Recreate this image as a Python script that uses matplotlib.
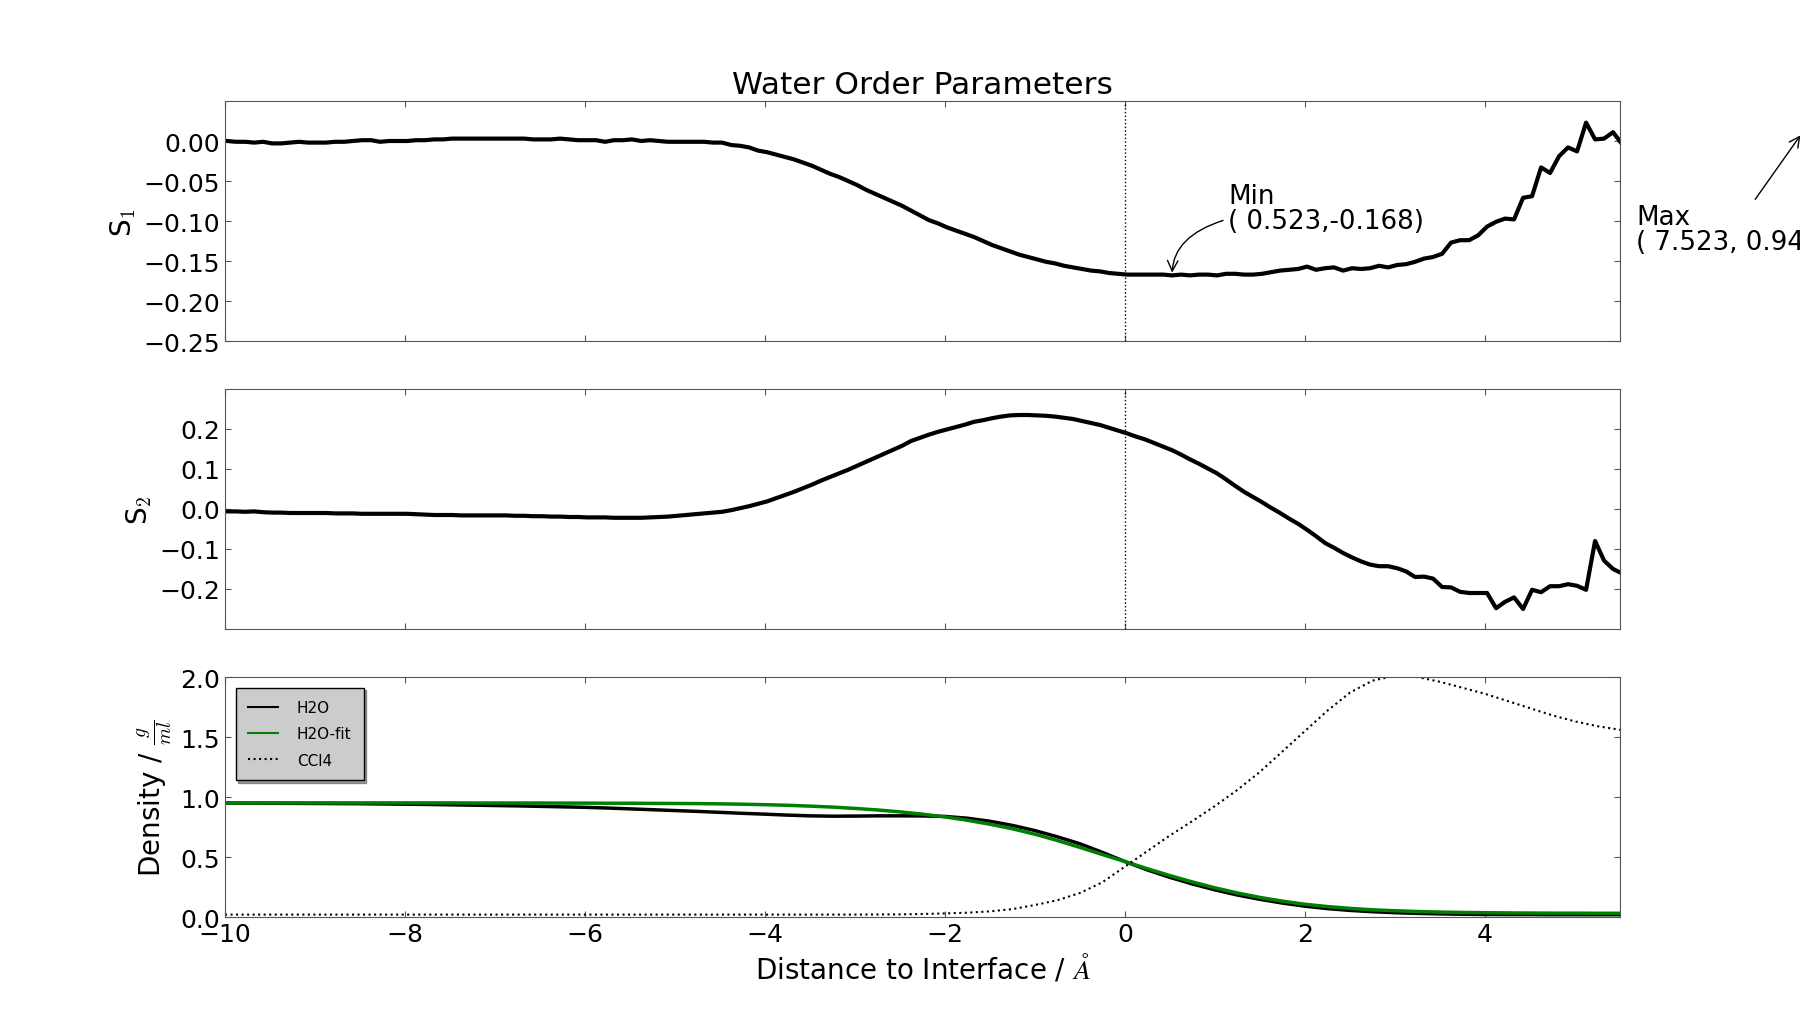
import numpy as np
import matplotlib
matplotlib.use('Agg')
import matplotlib.pyplot as plt

plt.rcParams['mathtext.fontset'] = 'cm'
plt.rcParams['font.family'] = ['DejaVu Sans']
plt.rcParams['xtick.direction'] = 'in'
plt.rcParams['ytick.direction'] = 'in'
plt.rcParams['xtick.top'] = True
plt.rcParams['ytick.right'] = True
plt.rcParams['axes.edgecolor'] = '#555555'
plt.rcParams['xtick.color'] = '#555555'
plt.rcParams['ytick.color'] = '#555555'
plt.rcParams['xtick.labelcolor'] = 'black'
plt.rcParams['ytick.labelcolor'] = 'black'

# order parameters, one bin every 0.1 A
x = np.linspace(-9.977, 5.523, 156)
s1 = [0.000, -0.001, -0.001, -0.002, -0.001, -0.003, -0.003, -0.002, -0.001, -0.002, -0.002,
      -0.002, -0.001, -0.001, 0.000, 0.001, 0.001, -0.001, 0.000, 0.000, 0.000,
      0.001, 0.001, 0.002, 0.002, 0.003, 0.003, 0.003, 0.003, 0.003, 0.003,
      0.003, 0.003, 0.003, 0.002, 0.002, 0.002, 0.003, 0.002, 0.001, 0.001,
      0.001, -0.001, 0.001, 0.001, 0.002, 0.000, 0.001, 0.000, -0.001, -0.001,
      -0.001, -0.001, -0.001, -0.002, -0.002, -0.005, -0.006, -0.008, -0.012, -0.014,
      -0.017, -0.020, -0.023, -0.027, -0.031, -0.036, -0.041, -0.045, -0.050, -0.055,
      -0.061, -0.066, -0.071, -0.076, -0.081, -0.087, -0.093, -0.099, -0.103, -0.108,
      -0.112, -0.116, -0.120, -0.125, -0.130, -0.134, -0.138, -0.142, -0.145, -0.148,
      -0.151, -0.153, -0.156, -0.158, -0.160, -0.162, -0.163, -0.165, -0.166, -0.167,
      -0.167, -0.167, -0.167, -0.167, -0.168, -0.167, -0.168, -0.167, -0.167, -0.168,
      -0.166, -0.166, -0.167, -0.167, -0.166, -0.164, -0.162, -0.161, -0.160, -0.157,
      -0.161, -0.159, -0.158, -0.162, -0.159, -0.160, -0.159, -0.156, -0.158, -0.155,
      -0.154, -0.151, -0.147, -0.145, -0.141, -0.127, -0.124, -0.124, -0.118, -0.107,
      -0.101, -0.097, -0.098, -0.071, -0.069, -0.033, -0.040, -0.019, -0.008, -0.013,
      0.023, 0.002, 0.003, 0.011, -0.004]
s2 = [-0.006, -0.006, -0.007, -0.006, -0.008, -0.009, -0.009, -0.010, -0.010, -0.010, -0.010,
      -0.010, -0.011, -0.011, -0.011, -0.012, -0.012, -0.012, -0.012, -0.012, -0.012,
      -0.013, -0.014, -0.015, -0.015, -0.015, -0.016, -0.016, -0.016, -0.016, -0.016,
      -0.016, -0.017, -0.017, -0.018, -0.018, -0.019, -0.019, -0.020, -0.020, -0.021,
      -0.021, -0.021, -0.022, -0.022, -0.022, -0.022, -0.021, -0.020, -0.019, -0.017,
      -0.015, -0.013, -0.011, -0.009, -0.007, -0.003, 0.002, 0.007, 0.013, 0.019,
      0.027, 0.035, 0.043, 0.052, 0.061, 0.071, 0.080, 0.089, 0.098, 0.108,
      0.118, 0.128, 0.138, 0.148, 0.158, 0.170, 0.178, 0.186, 0.193, 0.199,
      0.205, 0.211, 0.218, 0.222, 0.227, 0.231, 0.234, 0.235, 0.235, 0.234,
      0.233, 0.231, 0.228, 0.225, 0.220, 0.215, 0.210, 0.203, 0.196, 0.189,
      0.181, 0.174, 0.165, 0.156, 0.147, 0.136, 0.124, 0.113, 0.101, 0.089,
      0.074, 0.058, 0.043, 0.030, 0.017, 0.003, -0.010, -0.024, -0.037, -0.052,
      -0.068, -0.085, -0.097, -0.110, -0.121, -0.131, -0.139, -0.143, -0.143, -0.148,
      -0.156, -0.170, -0.169, -0.174, -0.195, -0.196, -0.207, -0.210, -0.210, -0.210,
      -0.248, -0.232, -0.221, -0.250, -0.202, -0.208, -0.193, -0.193, -0.188, -0.192,
      -0.202, -0.080, -0.129, -0.150, -0.161]

# densities, every 0.25 A
xd = np.linspace(-10, 5.5, 63)
h2o = [0.950, 0.949, 0.948, 0.947, 0.946, 0.945, 0.944, 0.942, 0.940, 0.938,
       0.935, 0.932, 0.929, 0.926, 0.922, 0.918, 0.914, 0.908, 0.901, 0.894,
       0.887, 0.880, 0.872, 0.864, 0.857, 0.849, 0.843, 0.840, 0.841, 0.843,
       0.843, 0.842, 0.838, 0.823, 0.798, 0.763, 0.720, 0.668, 0.610, 0.538,
       0.462, 0.392, 0.330, 0.275, 0.226, 0.183, 0.147, 0.116, 0.090, 0.070,
       0.055, 0.044, 0.036, 0.030, 0.026, 0.023, 0.021, 0.020, 0.020, 0.019,
       0.019, 0.019, 0.019]
h2o_fit = [0.951, 0.951, 0.951, 0.951, 0.951, 0.951, 0.951, 0.951, 0.951, 0.951,
           0.951, 0.950, 0.950, 0.950, 0.950, 0.949, 0.949, 0.948, 0.948, 0.947,
           0.946, 0.945, 0.943, 0.940, 0.936, 0.931, 0.924, 0.916, 0.905, 0.892,
           0.876, 0.857, 0.834, 0.806, 0.773, 0.735, 0.690, 0.637, 0.580, 0.520,
           0.462, 0.402, 0.345, 0.292, 0.243, 0.200, 0.163, 0.132, 0.106, 0.087,
           0.072, 0.060, 0.052, 0.046, 0.041, 0.038, 0.036, 0.034, 0.033, 0.032,
           0.032, 0.031, 0.031]
ccl4 = [0.020] * 28 + [
        0.020, 0.021, 0.022, 0.025, 0.030, 0.036, 0.047, 0.066, 0.100, 0.140,
        0.200, 0.290, 0.420, 0.550, 0.680, 0.800, 0.925, 1.060, 1.210, 1.380,
        1.550, 1.720, 1.870, 1.970, 2.010, 2.000, 1.960, 1.910, 1.860, 1.800,
        1.740, 1.680, 1.630, 1.590, 1.560]

fig, (ax1, ax2, ax3) = plt.subplots(3, 1, sharex=True, figsize=(18, 10.2), dpi=100)
fig.subplots_adjust(left=0.125, right=0.9, top=0.9, bottom=0.1, hspace=0.2)

ax1.plot(x, s1, 'k-', lw=3)
ax1.axvline(0, color='k', ls=':', lw=1)
ax1.set_ylim(-0.25, 0.05)
ax1.set_yticks([-0.25, -0.20, -0.15, -0.10, -0.05, 0.00])
ax1.set_ylabel('S$_1$', fontsize=20)
ax1.set_title('Water Order Parameters', fontsize=22.5)
ax1.annotate('Min\n( 0.523,-0.168)', xy=(0.523, -0.168), xytext=(1.15, -0.116),
             fontsize=18.8, ha='left', va='bottom', linespacing=0.95,
             arrowprops=dict(arrowstyle='->', color='k', lw=1,
                             connectionstyle='angle3,angleA=0,angleB=-90'))
ax1.annotate('Max\n( 7.523, 0.945)', xy=(7.523, 0.010), xytext=(5.68, -0.143),
             fontsize=18.8, ha='left', va='bottom', linespacing=0.95,
             annotation_clip=False,
             arrowprops=dict(arrowstyle='->', color='k', lw=1))

ax2.plot(x, s2, 'k-', lw=3)
ax2.axvline(0, color='k', ls=':', lw=1)
ax2.set_ylim(-0.3, 0.3)
ax2.set_yticks([-0.2, -0.1, 0.0, 0.1, 0.2])
ax2.set_ylabel('S$_2$', fontsize=20)

ax3.plot(xd, h2o, 'k-', lw=2.5, label='H2O')
ax3.plot(xd, h2o_fit, '-', color='green', lw=2.5, label='H2O-fit')
ax3.plot(xd, ccl4, 'k:', lw=1.5, label='CCl4')
ax3.set_ylim(0, 2.0)
ax3.set_yticks([0.0, 0.5, 1.0, 1.5, 2.0])
ax3.set_ylabel(r'Density / $\frac{g}{ml}$', fontsize=20)
ax3.set_xlabel(r'Distance to Interface / $\AA$', fontsize=20)
ax3.set_xlim(-10, 5.5)
ax3.set_xticks([-10, -8, -6, -4, -2, 0, 2, 4])
leg = ax3.legend(loc='upper left', fontsize=11, shadow=True, fancybox=False,
                 facecolor='0.8', edgecolor='k', framealpha=1,
                 handlelength=2.0, handletextpad=1.2, labelspacing=0.75,
                 borderpad=0.8, borderaxespad=0.7)
for line in leg.get_lines():
    line.set_linewidth(1.5)

for ax in (ax1, ax2, ax3):
    ax.tick_params(labelsize=18, length=4)

fig.savefig('out.png')
